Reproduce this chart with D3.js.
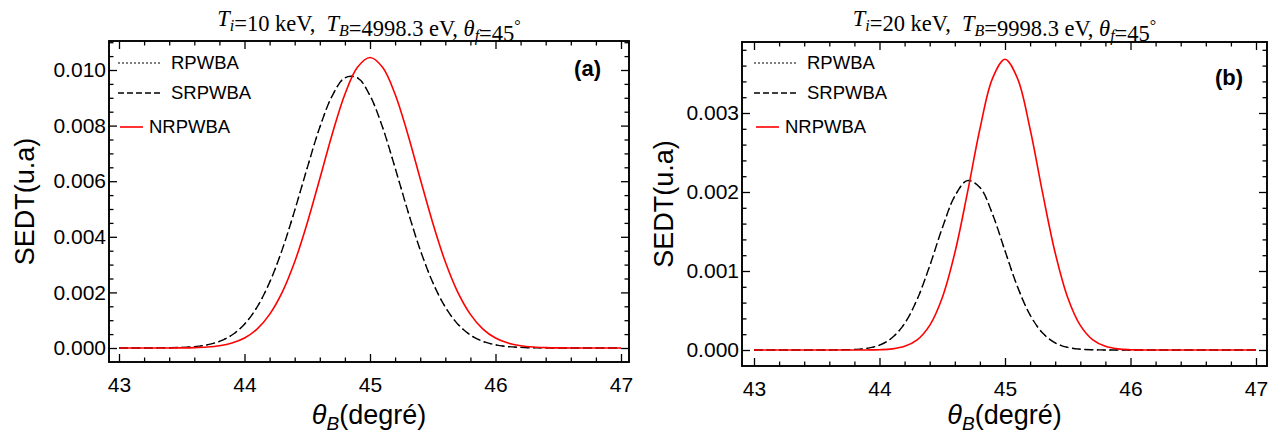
<!DOCTYPE html>
<html>
<head>
<meta charset="utf-8">
<script src="https://cdn.jsdelivr.net/npm/d3@7/dist/d3.min.js"></script>
<style>
  body { margin: 0; background: #fff; }
  text { font-family: "Liberation Sans", Arial, sans-serif; }
  .serif { font-family: "Liberation Serif", "Times New Roman", serif; white-space: pre; }
</style>
</head>
<body>
<svg id="chart" width="1282" height="439"></svg>
<script>
// theta_B grid (degrees), values in units of 1e-3 (u.a)
const theta = [43.0, 43.1, 43.2, 43.3, 43.4, 43.5, 43.6, 43.7, 43.8, 43.9,
               44.0, 44.1, 44.2, 44.3, 44.4, 44.5, 44.6, 44.7, 44.8, 44.9,
               45.0, 45.1, 45.2, 45.3, 45.4, 45.5, 45.6, 45.7, 45.8, 45.9,
               46.0, 46.1, 46.2, 46.3, 46.4, 46.5, 46.6, 46.7, 46.8, 46.9, 47.0];

// (a) Ti = 10 keV
const srpwbaA = [0, 0, 0.001, 0.003, 0.008, 0.021, 0.050, 0.113, 0.238, 0.467,
                 0.857, 1.47, 2.36, 3.53, 4.95, 6.48, 7.94, 9.08, 9.72, 9.72,
                 9.08, 7.94, 6.48, 4.95, 3.53, 2.36, 1.47, 0.857, 0.467, 0.238,
                 0.113, 0.050, 0.021, 0.008, 0.003, 0.001, 0, 0, 0, 0, 0];
const rpwbaA = srpwbaA.slice(); // same as SRPWBA, hidden under the dashes
const nrpwbaA = [0, 0, 0, 0.001, 0.002, 0.005, 0.014, 0.035, 0.081, 0.177,
                 0.358, 0.680, 1.21, 2.00, 3.10, 4.50, 6.09, 7.71, 9.13, 10.10,
                 10.45, 10.10, 9.13, 7.71, 6.09, 4.50, 3.10, 2.00, 1.21, 0.680,
                 0.358, 0.177, 0.081, 0.035, 0.014, 0.005, 0.002, 0.001, 0, 0, 0];

// (b) Ti = 20 keV
const srpwbaB = [0, 0, 0, 0, 0, 0, 0.0004, 0.002, 0.0065, 0.021,
                 0.061, 0.154, 0.336, 0.641, 1.065, 1.543, 1.948, 2.144, 2.058, 1.722,
                 1.256, 0.799, 0.443, 0.214, 0.090, 0.033, 0.0106, 0.003, 0.0007, 0,
                 0, 0, 0, 0, 0, 0, 0, 0, 0, 0, 0];
const rpwbaB = srpwbaB.slice();
const nrpwbaB = [0, 0, 0, 0, 0, 0, 0, 0, 0.0002, 0.0009,
                 0.004, 0.014, 0.046, 0.128, 0.312, 0.662, 1.228, 1.985, 2.797, 3.436,
                 3.68, 3.436, 2.797, 1.985, 1.228, 0.662, 0.312, 0.128, 0.046, 0.014,
                 0.004, 0.0009, 0.0002, 0, 0, 0, 0, 0, 0, 0, 0];

const xTicks = [43, 44, 45, 46, 47];
const yTicksA = [0, 2, 4, 6, 8, 10];
const yTicksB = [0, 1, 2, 3];
const legendNames = ['RPWBA', 'SRPWBA', 'NRPWBA'];

const panels = [
  {
    xRange: [119, 621], frameX: [109, 629], frameY: [41, 362],
    yDomain: [0, 10], yRange: [348, 70], yTicks: yTicksA, yMinor: 0.5,
    series: [rpwbaA, srpwbaA, nrpwbaA],
    title: [['T', 'i'], '=10 keV,  ', ['T', 'B'], '=4998.3 eV, ', ['θ', 'f'], '=45', '°'],
    label: '(a)', labelX: 601, labelY: 76, legendX: 118, ytitleX: 25
  },
  {
    xRange: [754, 1256], frameX: [742, 1267], frameY: [42, 366],
    yDomain: [0, 3], yRange: [350, 113], yTicks: yTicksB, yMinor: 0.2,
    series: [rpwbaB, srpwbaB, nrpwbaB],
    title: [['T', 'i'], '=20 keV,  ', ['T', 'B'], '=9998.3 eV, ', ['θ', 'f'], '=45', '°'],
    label: '(b)', labelX: 1243, labelY: 85, legendX: 754, ytitleX: 664
  }
];

const styles = [
  { color: '#000', dash: '1.5,4.75', width: 1.1 },
  { color: '#000', dash: '9,3.5', width: 1.4 },
  { color: '#ff0000', dash: null, width: 1.6 }
];

const svg = d3.select('#chart');
svg.append('rect').attr('width', 1282).attr('height', 439).attr('fill', '#fff');

panels.forEach(p => {
  const g = svg.append('g');
  const x = d3.scaleLinear().domain([43, 47]).range(p.xRange);
  const y = d3.scaleLinear().domain(p.yDomain).range(p.yRange);
  const [fx0, fx1] = p.frameX, [fy0, fy1] = p.frameY;
  const xLo = x.invert(fx0), xHi = x.invert(fx1);
  const yLo = y.invert(fy1), yHi = y.invert(fy0);

  const xMinor = d3.range(Math.ceil(xLo / 0.2) * 0.2, xHi, 0.2)
    .filter(v => Math.abs(v - Math.round(v)) > 1e-6);
  const yMinor = d3.range(Math.ceil(yLo / p.yMinor) * p.yMinor, yHi, p.yMinor)
    .filter(v => !p.yTicks.some(t => Math.abs(t - v) < 1e-6) && y(v) < fy1 - 1 && y(v) > fy0 + 1);

  // curves
  const line = d3.line().x((d, i) => x(theta[i])).y(d => y(d)).curve(d3.curveCatmullRom.alpha(0.5));
  p.series.forEach((s, k) => {
    g.append('path').datum(s)
      .attr('d', line)
      .attr('fill', 'none')
      .attr('stroke', styles[k].color)
      .attr('stroke-width', styles[k].width)
      .attr('stroke-dasharray', styles[k].dash);
  });

  // frame ticks (inward, all four sides)
  const bottom = d3.axisBottom(x).tickValues(xTicks).tickSize(-8).tickPadding(15).tickFormat(d3.format('d'));
  const bottomMinor = d3.axisBottom(x).tickValues(xMinor).tickSize(-4.5).tickFormat('');
  const top = d3.axisTop(x).tickValues(xTicks).tickSize(-8).tickFormat('');
  const topMinor = d3.axisTop(x).tickValues(xMinor).tickSize(-4.5).tickFormat('');
  const left = d3.axisLeft(y).tickValues(p.yTicks).tickSize(-8).tickPadding(3).tickFormat(d => (d / 1000).toFixed(3));
  const leftMinor = d3.axisLeft(y).tickValues(yMinor).tickSize(-4.5).tickFormat('');
  const right = d3.axisRight(y).tickValues(p.yTicks).tickSize(-8).tickFormat('');
  const rightMinor = d3.axisRight(y).tickValues(yMinor).tickSize(-4.5).tickFormat('');

  [[bottom, `translate(0,${fy1})`], [bottomMinor, `translate(0,${fy1})`],
   [top, `translate(0,${fy0})`], [topMinor, `translate(0,${fy0})`],
   [left, `translate(${fx0},0)`], [leftMinor, `translate(${fx0},0)`],
   [right, `translate(${fx1},0)`], [rightMinor, `translate(${fx1},0)`]].forEach(([ax, tr]) => {
    const a = g.append('g').attr('transform', tr).call(ax);
    a.select('.domain').remove();
    a.selectAll('line').attr('stroke', '#000').attr('stroke-width', 1.3);
    a.selectAll('text').attr('font-size', 21).attr('fill', '#000')
      .style('font-family', '"Liberation Sans", Arial, sans-serif');
  });

  g.append('rect')
    .attr('x', fx0).attr('y', fy0)
    .attr('width', fx1 - fx0).attr('height', fy1 - fy0)
    .attr('fill', 'none').attr('stroke', '#000').attr('stroke-width', 1.9);

  // title
  const t = g.append('text').attr('class', 'serif')
    .attr('x', (fx0 + fx1) / 2).attr('y', 26)
    .attr('text-anchor', 'middle').attr('font-size', 22.5);
  p.title.forEach(part => {
    if (Array.isArray(part)) {
      t.append('tspan').attr('font-style', 'italic').text(part[0]);
      t.append('tspan').attr('font-style', 'italic').attr('font-size', 16).attr('dy', 5).text(part[1]);
      t.append('tspan').attr('dy', -5).text('');
    } else if (part === '°') {
      t.append('tspan').attr('font-size', 16).attr('dy', -10).text(part);
    } else {
      t.append('tspan').text(part);
    }
  });

  // panel label
  g.append('text').attr('x', p.labelX).attr('y', p.labelY)
    .attr('text-anchor', 'end').attr('font-size', 22).attr('font-weight', 'bold').text(p.label);

  // axis titles
  const xt = g.append('text').attr('x', (fx0 + fx1) / 2).attr('y', 424)
    .attr('text-anchor', 'middle').attr('font-size', 27);
  xt.append('tspan').attr('font-style', 'italic').text('θ');
  xt.append('tspan').attr('font-style', 'italic').attr('font-size', 19).attr('dy', 6).text('B');
  xt.append('tspan').attr('dy', -6).text('(degré)');

  g.append('text')
    .attr('transform', `translate(${p.ytitleX},${(fy0 + fy1) / 2}) rotate(-90)`)
    .attr('text-anchor', 'middle').attr('dy', '0.35em').attr('font-size', 27)
    .text('SEDT(u.a)');

  // legend
  const legY = [63, 93, 127];
  legendNames.forEach((name, k) => {
    const red = k === 2;
    const lx0 = p.legendX + (red ? 2 : 0), lx1 = p.legendX + (red ? 25 : 44);
    g.append('line').attr('x1', lx0).attr('x2', lx1).attr('y1', legY[k]).attr('y2', legY[k])
      .attr('stroke', styles[k].color).attr('stroke-width', styles[k].width)
      .attr('stroke-dasharray', k === 0 ? '2,2' : k === 1 ? '6,3' : null);
    g.append('text').attr('x', lx1 + (red ? 6 : 9)).attr('y', legY[k]).attr('dy', '0.35em')
      .attr('font-size', 18.5).text(name);
  });
});
</script>
</body>
</html>
